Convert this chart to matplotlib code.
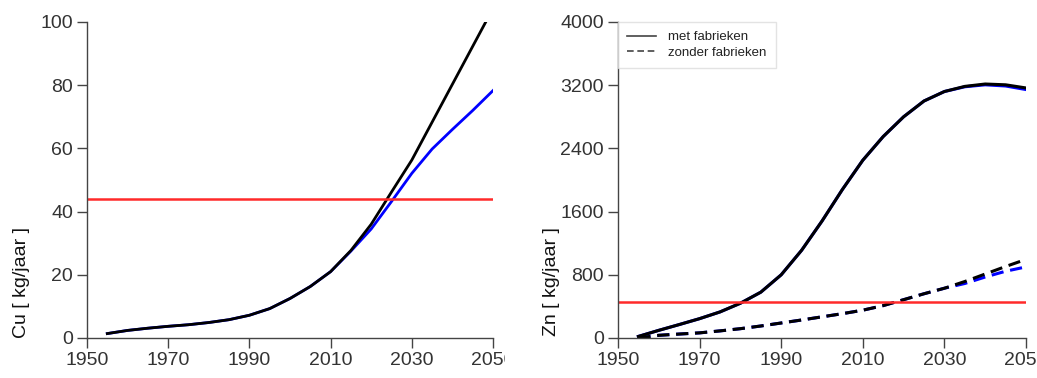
import matplotlib.pyplot as plt
from matplotlib.transforms import Bbox, TransformedBbox

plt.rcParams['font.family'] = ['Liberation Sans', 'DejaVu Sans']

years = [1955, 1960, 1965, 1970, 1975, 1980, 1985, 1990, 1995, 2000,
         2005, 2010, 2015, 2020, 2025, 2030, 2035, 2040, 2045, 2050]

# Cu (kg/jaar)
cu_black = [1.4, 2.4, 3.1, 3.7, 4.2, 4.9, 5.8, 7.2, 9.3, 12.5,
            16.3, 21.0, 27.7, 36.0, 46.2, 56.3, 68.3, 80.3, 92.3, 104.3]
cu_blue = [1.4, 2.4, 3.1, 3.7, 4.2, 4.9, 5.8, 7.2, 9.3, 12.5,
           16.3, 21.0, 27.5, 34.5, 43.2, 52.1, 59.8, 66.0, 72.0, 78.3]
cu_norm = 44

# Zn (kg/jaar)
zn_met_black = [20, 97, 170, 245, 330, 440, 580, 800, 1110, 1480,
                1880, 2250, 2550, 2800, 3000, 3120, 3185, 3215, 3205, 3165]
zn_met_blue = [20, 97, 170, 245, 330, 440, 580, 800, 1110, 1480,
               1880, 2250, 2550, 2800, 3000, 3120, 3180, 3205, 3190, 3145]
zn_zonder_black = [0, 34, 50, 65, 90, 118, 152, 190, 228, 268,
                   308, 352, 410, 485, 560, 630, 715, 810, 905, 995]
zn_zonder_blue = [0, 34, 50, 65, 90, 118, 152, 190, 228, 268,
                  308, 352, 410, 485, 560, 630, 690, 772, 845, 900]
zn_norm = 457

x_ticks = [1950, 1970, 1990, 2010, 2030, 2050]

W, H = 1037, 378
fig = plt.figure(figsize=(W / 100, H / 100), dpi=100)

ax1 = fig.add_axes([87 / W, 1 - 338 / H, 406 / W, 316 / H])
ax2 = fig.add_axes([618 / W, 1 - 338 / H, 408 / W, 316 / H])

dash = (0, (4, 2.2))

ax1.plot(years, cu_blue, color='#0000ff', lw=2)
ax1.plot(years, cu_black, color='black', lw=2)
ax1.axhline(cu_norm, color='#ff2a2a', lw=1.8)
ax1.set_ylim(0, 100)
ax1.set_yticks([0, 20, 40, 60, 80, 100])

ax2.plot(years, zn_met_blue, color='#0000ff', lw=2.2)
ax2.plot(years, zn_zonder_blue, color='#0000ff', lw=2.2, ls=dash)
ax2.plot(years, zn_met_black, color='black', lw=2.2, label='met fabrieken')
ax2.plot(years, zn_zonder_black, color='black', lw=2.2, ls=dash, label='zonder fabrieken')
ax2.axhline(zn_norm, color='#ff2a2a', lw=1.8)
ax2.set_ylim(0, 4000)
ax2.set_yticks([0, 800, 1600, 2400, 3200, 4000])

for ax in (ax1, ax2):
    ax.set_xlim(1950, 2050)
    ax.set_xticks(x_ticks)
    for s in ('top', 'right'):
        ax.spines[s].set_visible(False)
    for s in ('left', 'bottom'):
        ax.spines[s].set_color('#444444')
        ax.spines[s].set_linewidth(1)
    ax.tick_params(length=7, width=1, color='#444444', labelcolor='#333333',
                   labelsize=14, pad=3)

leg = ax2.legend(loc='upper left', bbox_to_anchor=(0, 1), borderaxespad=0,
                 fontsize=9.5, frameon=True, fancybox=False, handlelength=2.2,
                 handletextpad=0.9, borderpad=0.7, labelspacing=0.25)
leg.get_frame().set_edgecolor('#dddddd')
leg.get_frame().set_linewidth(1)
for h in leg.get_lines():
    h.set_linewidth(1.2)
    h.set_color('#444444')
for t in leg.get_texts():
    t.set_color('#222222')

fig.text(22 / W, 1 - 282 / H, 'Cu [ kg/jaar ]', rotation=90, ha='center',
         va='center', fontsize=14, color='#111111')
fig.text(552 / W, 1 - 282 / H, 'Zn [ kg/jaar ]', rotation=90, ha='center',
         va='center', fontsize=14, color='#111111')

# left panel's last tick label is cut off at the panel edge
fig.canvas.draw()
clip = TransformedBbox(Bbox([[0, 0], [505 / W, 1]]), fig.transFigure)
for lab in ax1.get_xticklabels():
    lab.set_clip_box(clip)
    lab.set_clip_on(True)

fig.savefig('out.png', dpi=100)
